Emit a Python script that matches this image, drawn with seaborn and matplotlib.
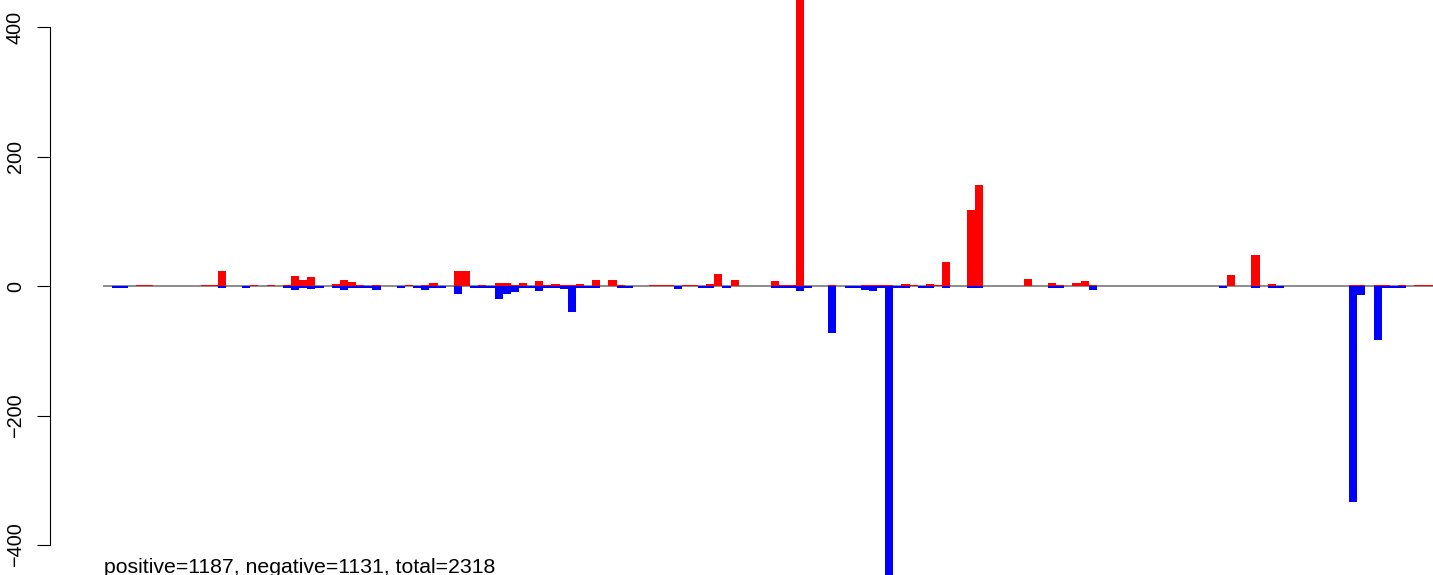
import numpy as np
import pandas as pd
import matplotlib
matplotlib.use("Agg")
import matplotlib.pyplot as plt
import seaborn as sns

# bin index and values (red = positive part, blue = negative part)
t = 2.0  # tiny values drawn as thin lines
positive = [
    0, 0, 0, t, t, 0, 0, 0, 0, 0,
    0, t, 2.5, 24, 0, 0, 0, t, 0, t,
    0, 2.5, 16, 9, 14, 0, 0, 3, 9, 6,
    t, 0, t, 0, 0, 0, t, 0, 2.5, 5,
    0, 0, 24, 24, 0, 2.5, 0, 5, 5, t,
    5, 0, 8, 2.5, 3.5, 2.5, t, 3.5, 0, 9,
    0, 10.5, 2.5, 0, 0, 0, 2.5, t, t, 0,
    t, t, 0, 3.5, 19, 0, 10, 0, 0, 0,
    0, 8, 2.5, t, 500, 0, 0, 0, t, 0,
    0, 0, 2.5, t, t, 2.5, 0, 3.5, t, 0,
    3.5, t, 38, 0, 0, 118, 156, 0, 0, 0,
    0, 0, 11, 0, 0, 5, 2.5, 0, 5, 8,
    t, 0, 0, 0, 0, 0, 0, 0, 0, 0,
    0, 0, 0, 0, 0, 0, 0, 18, 0, 0,
    49, 0, 3, 0, 0, 0, 0, 0, 0, 0,
    0, 0, 2.5, 2.5, 0, t, t, 0, t, 0,
    t, t, t,
]
negative = [
    -t, -t, 0, 0, 0, 0, 0, 0, 0, 0,
    0, 0, 0, -t, 0, 0, -t, 0, 0, 0,
    0, -3, -6, -2.5, -4, -t, 0, -3, -5, -2,
    -t, -t, -6, 0, 0, -t, 0, -t, -5, -t,
    -t, 0, -12, 0, -t, -t, -t, -20, -12, -9,
    -t, -t, -7, -t, -t, -4, -40, -t, -t, -t,
    0, 0, -t, -t, 0, 0, 0, 0, 0, -4,
    0, 0, -t, -t, 0, -t, 0, 0, 0, 0,
    0, -t, -t, -3, -8, -t, 0, 0, -72, 0,
    -t, -t, -5, -7, -t, -455, -t, -t, 0, -t,
    -2, 0, -t, 0, 0, -t, -t, 0, 0, 0,
    0, 0, 0, 0, 0, -t, -t, 0, 0, 0,
    -6, 0, 0, 0, 0, 0, 0, 0, 0, 0,
    0, 0, 0, 0, 0, 0, -t, 0, 0, 0,
    -t, 0, -3, -2, 0, 0, 0, 0, 0, 0,
    0, 0, -333, -13, 0, -83, -3, -t, -2, 0,
    0, 0, 0,
]
bins = list(range(len(positive)))
yticks = [-400, -200, 0, 200, 400]
caption = "positive=1187, negative=1131, total=2318"

df = pd.DataFrame({"bin": bins, "positive": positive, "negative": negative})

sns.set_theme(style="white")
plt.rcParams["font.family"] = ["Liberation Sans", "DejaVu Sans"]

W, H = 1433, 575
fig = plt.figure(figsize=(W / 100, H / 100), dpi=100)
ax = fig.add_axes([103 / W, 0, 1 - 103 / W, 1])

ax.axhline(0, color="#8c8c8c", lw=1.4, zorder=0)
sns.barplot(data=df, x="bin", y="positive", color="#ff0000", saturation=1,
            width=1, linewidth=0, errorbar=None, native_scale=True, ax=ax, zorder=2)
sns.barplot(data=df, x="bin", y="negative", color="#0000ff", saturation=1,
            width=1, linewidth=0, errorbar=None, native_scale=True, ax=ax, zorder=3)

ax.set_xlim(-1.6, 161.8)
ax.set_ylim(-446.2, 442.5)
ax.set_xlabel("")
ax.set_ylabel("")
ax.set_xticks([])
ax.set_yticks(yticks)
ax.set_yticklabels([str(v).replace("-", "\u2212") for v in yticks])
for s in ["top", "right", "bottom"]:
    ax.spines[s].set_visible(False)
ax.spines["left"].set_position(("outward", 38.2))
ax.spines["left"].set_bounds(-400, 400)
ax.spines["left"].set_color("black")
ax.spines["left"].set_linewidth(0.8)
ax.tick_params(axis="y", direction="out", length=9.4, width=0.8, color="black",
               pad=8.6, labelsize=14.3, labelcolor="black", left=True)
for lab in ax.get_yticklabels():
    lab.set_rotation(90)
    lab.set_va("center")
ax.patch.set_alpha(0)

fig.text(104 / W, 2 / H, caption, fontsize=15.3, color="black",
         ha="left", va="baseline")

fig.savefig("out.png", dpi=100)
